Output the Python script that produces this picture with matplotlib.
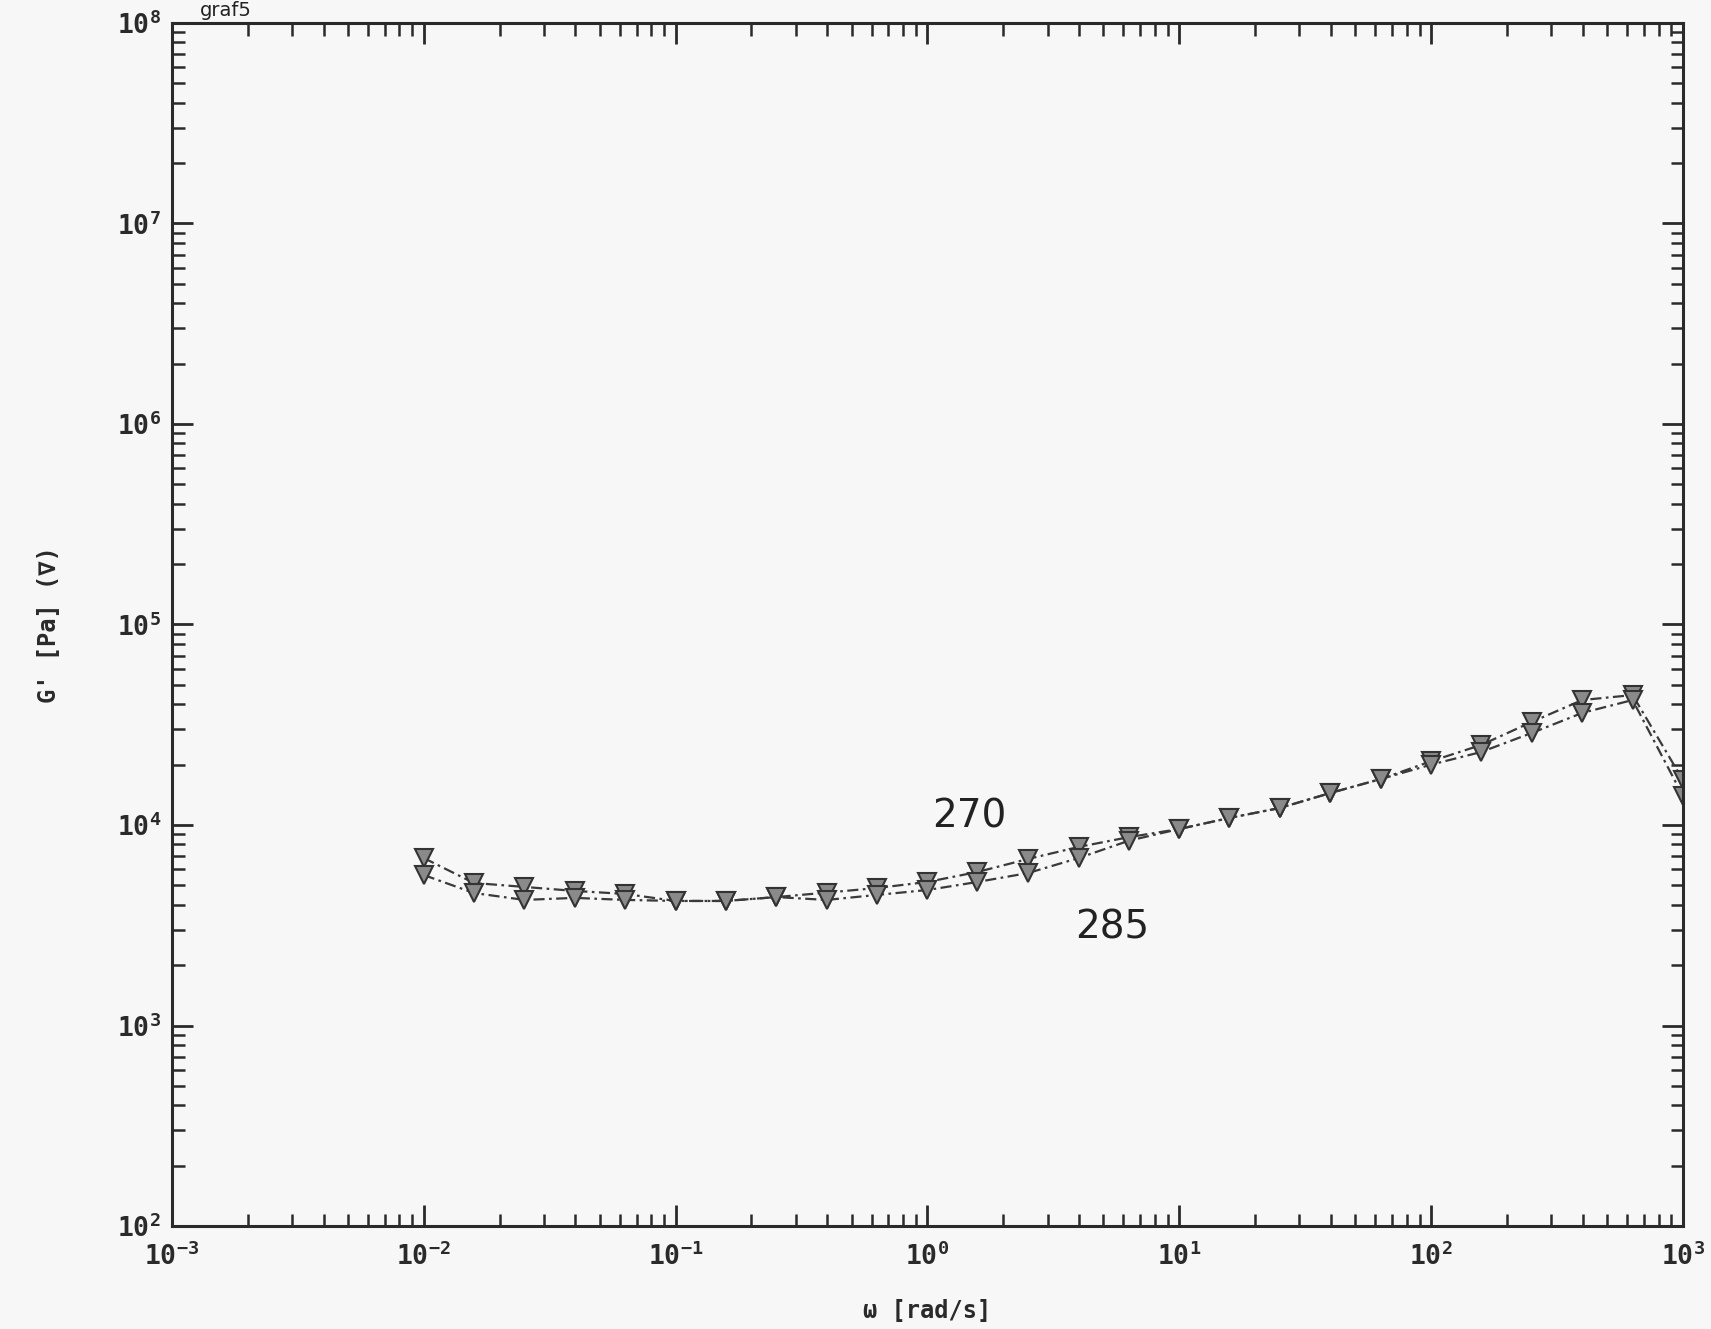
import matplotlib
matplotlib.use("Agg")
import matplotlib.pyplot as plt
from matplotlib.ticker import LogLocator, NullFormatter

plt.rcParams['mathtext.fontset'] = 'custom'
plt.rcParams['mathtext.rm'] = 'DejaVu Sans Mono:bold'
plt.rcParams['mathtext.it'] = 'DejaVu Sans Mono:bold'
plt.rcParams['mathtext.bf'] = 'DejaVu Sans Mono:bold'

# frequency [rad/s]
omega = [0.01, 0.0158, 0.0251, 0.0398, 0.0631, 0.1, 0.158, 0.251, 0.398, 0.631,
         1.0, 1.58, 2.51, 3.98, 6.31, 10.0, 15.8, 25.1, 39.8, 63.1,
         100.0, 158.0, 251.0, 398.0, 631.0, 1000.0]

# G' [Pa]
g_270 = [6840, 5140, 4910, 4690, 4530, 4180, 4180, 4370, 4600, 4850,
         5200, 5830, 6770, 7770, 8700, 9550, 10840, 12160, 14440, 16950,
         20800, 25060, 32650, 41990, 44470, 16760]
g_285 = [5630, 4580, 4230, 4330, 4230, 4180, 4180, 4370, 4230, 4480,
         4740, 5200, 5760, 6840, 8350, 9550, 10840, 12160, 14440, 16950,
         20000, 23120, 28770, 36220, 42000, 13960]

x_exp = [-3, -2, -1, 0, 1, 2, 3]
y_exp = [2, 3, 4, 5, 6, 7, 8]

bg = '#f7f7f7'
ink = '#2a2a2a'

fig = plt.figure(figsize=(17.11, 13.29), dpi=100, facecolor=bg)
ax = fig.add_axes([0.1005, 0.0775, 0.8831, 0.9052], facecolor=bg)

ls = (0, (5, 2, 1.2, 2))
for g in (g_270, g_285):
    ax.plot(omega, g, linestyle=ls, color='#3a3a3a', lw=1.6,
            marker='v', markersize=13, mfc='#8a8a8a', mec='#333333', mew=1.5)

ax.set_xscale('log')
ax.set_yscale('log')
ax.set_xlim(1e-3, 1e3)
ax.set_ylim(1e2, 1e8)

ax.set_xticks([10.0 ** e for e in x_exp])
ax.set_xticklabels([r'$10^{%d}$' % e for e in x_exp])
ax.set_yticks([10.0 ** e for e in y_exp])
ax.set_yticklabels([r'$10^{%d}$' % e for e in y_exp])
ax.xaxis.set_minor_locator(LogLocator(base=10, subs=range(2, 10), numticks=20))
ax.yaxis.set_minor_locator(LogLocator(base=10, subs=range(2, 10), numticks=20))
ax.xaxis.set_minor_formatter(NullFormatter())
ax.yaxis.set_minor_formatter(NullFormatter())

ax.tick_params(which='both', direction='in', top=True, right=True, color=ink)
ax.tick_params(which='major', length=15, width=2, labelsize=19, labelcolor=ink)
ax.tick_params(which='minor', length=9, width=1.8)
ax.tick_params(axis='x', which='major', pad=12)
ax.tick_params(axis='y', which='major', pad=8)

for s in ax.spines.values():
    s.set_linewidth(2.2)
    s.set_color(ink)

ax.set_xlabel('ω [rad/s]', fontsize=17, fontweight='bold', family='DejaVu Sans Mono',
              color=ink, labelpad=20)
ax.set_ylabel("G' [Pa] (∇)", fontsize=17, fontweight='bold', family='DejaVu Sans Mono',
              color=ink, labelpad=40)

ax.text(1.46, 1.1e4, '270', fontsize=28, color='#222222', ha='center', va='center')
ax.text(5.4, 3.08e3, '285', fontsize=28, color='#222222', ha='center', va='center')

fig.text(0.117, 0.999, 'graf5', fontsize=14, color='#222222', ha='left', va='top')

fig.savefig('out.png', dpi=100, facecolor=bg)
